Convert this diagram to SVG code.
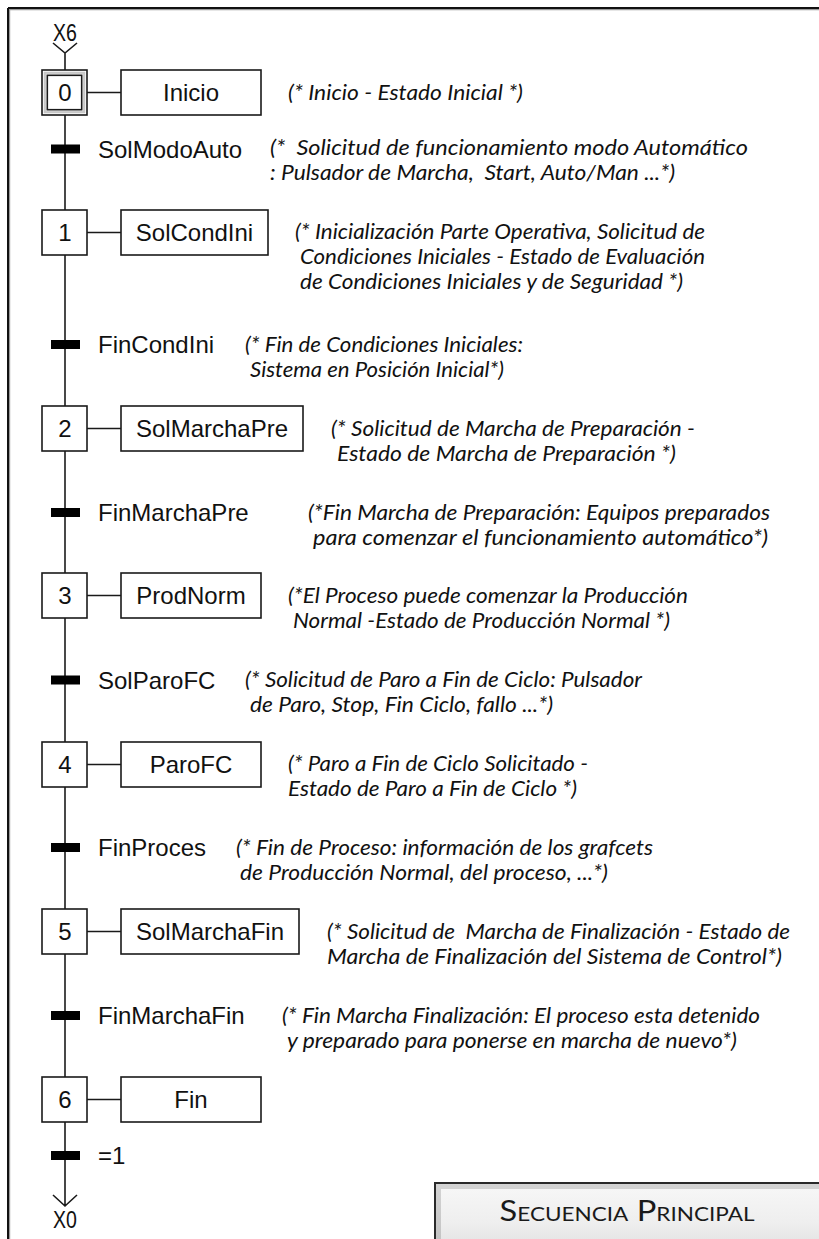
<svg xmlns="http://www.w3.org/2000/svg" width="819" height="1239" viewBox="0 0 819 1239">
  <defs>
    <linearGradient id="btnOuter" x1="0" y1="0" x2="0" y2="1">
      <stop offset="0" stop-color="#d4d4d4"/>
      <stop offset="1" stop-color="#bdbdbd"/>
    </linearGradient>
    <linearGradient id="btnFace" x1="0" y1="0" x2="0" y2="1">
      <stop offset="0" stop-color="#f6f6f6"/>
      <stop offset="0.5" stop-color="#eeeeee"/>
      <stop offset="1" stop-color="#dcdcdc"/>
    </linearGradient>
  </defs>
  <style>
    .ln{stroke:#1a1a1a;stroke-width:1.6;fill:none}
    .box{fill:#fff;stroke:#1a1a1a;stroke-width:1.6}
    .bar{fill:#000}
    .lbl{font-family:"Liberation Sans",Arial,sans-serif;font-size:24px;fill:#111}
    .mid{text-anchor:middle}
    .ref{font-family:"Liberation Sans",Arial,sans-serif;font-size:23px;fill:#111;text-anchor:middle}
    .cm{font-family:Lato,"Liberation Sans",sans-serif;font-style:italic;font-size:22px;fill:#111;white-space:pre}
    .title{font-family:Lato,"Liberation Sans",sans-serif;font-size:29px;fill:#1a1a1a;font-variant:small-caps;text-anchor:middle}
  </style>

  <rect width="819" height="1239" fill="#fff"/>

  <!-- page frame (top and left edges) -->
  <g id="frame">
    <line x1="8" y1="9.6" x2="819" y2="9.6" stroke="#9a9a9a" stroke-width="1.2"/>
    <line x1="9.6" y1="8" x2="9.6" y2="1239" stroke="#9a9a9a" stroke-width="1.2"/>
    <line x1="8" y1="8" x2="819" y2="8" stroke="#111" stroke-width="2"/>
    <line x1="8" y1="8" x2="8" y2="1239" stroke="#111" stroke-width="2"/>
  </g>

  <!-- connectors -->
  <g id="connectors" class="ln">
    <path d="M53,43 L65,53 L77,43 M65,53 V70"/>
    <path d="M65,115 V210"/>
    <path d="M65,255 V406"/>
    <path d="M65,451 V573"/>
    <path d="M65,618 V742"/>
    <path d="M65,787 V909"/>
    <path d="M65,954 V1077"/>
    <path d="M65,1122 V1206 M53,1195 L65,1206 L77,1195"/>
    <path d="M87,92.5 H121 M87,232.5 H121 M87,428.5 H121 M87,595.5 H121 M87,764.5 H121 M87,931.5 H121 M87,1099.5 H121"/>
  </g>

  <!-- references -->
  <g id="ref-in">
    <text class="ref" transform="translate(65,41) scale(0.85,1)">X6</text>
  </g>
  <g id="ref-out">
    <text class="ref" transform="translate(65,1228) scale(0.85,1)">X0</text>
  </g>

  <!-- step 0 (initial) -->
  <g id="step0">
    <rect x="42" y="70" width="45" height="45" fill="#fff" stroke="#1a1a1a" stroke-width="1.6"/>
    <rect x="44.8" y="72.8" width="39.4" height="39.4" fill="none" stroke="#c8c8c8" stroke-width="2.2"/>
    <rect x="47.3" y="75.3" width="34.4" height="34.4" fill="none" stroke="#1a1a1a" stroke-width="1.6"/>
    <text class="lbl mid" x="65" y="101">0</text>
  </g>
  <g id="action0">
    <rect class="box" x="121" y="70" width="140" height="45"/>
    <text class="lbl mid" x="191" y="101">Inicio</text>
    <text class="cm" x="288" y="100" textLength="235" lengthAdjust="spacingAndGlyphs">(* Inicio - Estado Inicial *)</text>
  </g>

  <g id="t0">
    <rect class="bar" x="51" y="144.5" width="29" height="9"/>
    <text class="lbl" x="98" y="157.5">SolModoAuto</text>
    <text class="cm" x="270" y="155" textLength="478" lengthAdjust="spacingAndGlyphs">(*  Solicitud de funcionamiento modo Automático</text>
    <text class="cm" x="270" y="180" textLength="405" lengthAdjust="spacingAndGlyphs">: Pulsador de Marcha,  Start, Auto/Man ...*)</text>
  </g>

  <g id="step1">
    <rect class="box" x="42" y="210" width="45" height="45"/>
    <text class="lbl mid" x="65" y="241">1</text>
  </g>
  <g id="action1">
    <rect class="box" x="121" y="210" width="147" height="45"/>
    <text class="lbl mid" x="194.5" y="241">SolCondIni</text>
    <text class="cm" x="295" y="239" textLength="410" lengthAdjust="spacingAndGlyphs">(* Inicialización Parte Operativa, Solicitud de</text>
    <text class="cm" x="300" y="264" textLength="405" lengthAdjust="spacingAndGlyphs">Condiciones Iniciales - Estado de Evaluación</text>
    <text class="cm" x="300" y="289" textLength="383" lengthAdjust="spacingAndGlyphs">de Condiciones Iniciales y de Seguridad *)</text>
  </g>

  <g id="t1">
    <rect class="bar" x="51" y="340" width="29" height="9"/>
    <text class="lbl" x="98" y="353">FinCondIni</text>
    <text class="cm" x="245" y="352" textLength="278" lengthAdjust="spacingAndGlyphs">(* Fin de Condiciones Iniciales:</text>
    <text class="cm" x="250" y="377" textLength="254" lengthAdjust="spacingAndGlyphs">Sistema en Posición Inicial*)</text>
  </g>

  <g id="step2">
    <rect class="box" x="42" y="406" width="45" height="45"/>
    <text class="lbl mid" x="65" y="437">2</text>
  </g>
  <g id="action2">
    <rect class="box" x="121" y="406" width="182" height="45"/>
    <text class="lbl mid" x="212" y="437">SolMarchaPre</text>
    <text class="cm" x="331" y="436" textLength="364" lengthAdjust="spacingAndGlyphs">(* Solicitud de Marcha de Preparación -</text>
    <text class="cm" x="337" y="461" textLength="339" lengthAdjust="spacingAndGlyphs">Estado de Marcha de Preparación *)</text>
  </g>

  <g id="t2">
    <rect class="bar" x="51" y="508" width="29" height="9"/>
    <text class="lbl" x="98" y="521">FinMarchaPre</text>
    <text class="cm" x="308" y="520" textLength="462" lengthAdjust="spacingAndGlyphs">(*Fin Marcha de Preparación: Equipos preparados</text>
    <text class="cm" x="313" y="545" textLength="455" lengthAdjust="spacingAndGlyphs">para comenzar el funcionamiento automático*)</text>
  </g>

  <g id="step3">
    <rect class="box" x="42" y="573" width="45" height="45"/>
    <text class="lbl mid" x="65" y="604">3</text>
  </g>
  <g id="action3">
    <rect class="box" x="121" y="573" width="140" height="45"/>
    <text class="lbl mid" x="191" y="604">ProdNorm</text>
    <text class="cm" x="288" y="603" textLength="400" lengthAdjust="spacingAndGlyphs">(*El Proceso puede comenzar la Producción</text>
    <text class="cm" x="293" y="628" textLength="377" lengthAdjust="spacingAndGlyphs">Normal -Estado de Producción Normal *)</text>
  </g>

  <g id="t3">
    <rect class="bar" x="51" y="675.5" width="29" height="9"/>
    <text class="lbl" x="98" y="688.5">SolParoFC</text>
    <text class="cm" x="245" y="687" textLength="397" lengthAdjust="spacingAndGlyphs">(* Solicitud de Paro a Fin de Ciclo: Pulsador</text>
    <text class="cm" x="250" y="712" textLength="303" lengthAdjust="spacingAndGlyphs">de Paro, Stop, Fin Ciclo, fallo ...*)</text>
  </g>

  <g id="step4">
    <rect class="box" x="42" y="742" width="45" height="45"/>
    <text class="lbl mid" x="65" y="773">4</text>
  </g>
  <g id="action4">
    <rect class="box" x="121" y="742" width="140" height="45"/>
    <text class="lbl mid" x="191" y="773">ParoFC</text>
    <text class="cm" x="288" y="771" textLength="300" lengthAdjust="spacingAndGlyphs">(* Paro a Fin de Ciclo Solicitado -</text>
    <text class="cm" x="288" y="796" textLength="289" lengthAdjust="spacingAndGlyphs">Estado de Paro a Fin de Ciclo *)</text>
  </g>

  <g id="t4">
    <rect class="bar" x="51" y="843" width="29" height="9"/>
    <text class="lbl" x="98" y="856">FinProces</text>
    <text class="cm" x="236" y="855" textLength="417" lengthAdjust="spacingAndGlyphs">(* Fin de Proceso: información de los grafcets</text>
    <text class="cm" x="240" y="880" textLength="368" lengthAdjust="spacingAndGlyphs">de Producción Normal, del proceso, ...*)</text>
  </g>

  <g id="step5">
    <rect class="box" x="42" y="909" width="45" height="45"/>
    <text class="lbl mid" x="65" y="940">5</text>
  </g>
  <g id="action5">
    <rect class="box" x="121" y="909" width="178" height="45"/>
    <text class="lbl mid" x="210" y="940">SolMarchaFin</text>
    <text class="cm" x="327" y="939" textLength="463" lengthAdjust="spacingAndGlyphs">(* Solicitud de  Marcha de Finalización - Estado de</text>
    <text class="cm" x="327" y="964" textLength="455" lengthAdjust="spacingAndGlyphs">Marcha de Finalización del Sistema de Control*)</text>
  </g>

  <g id="t5">
    <rect class="bar" x="51" y="1011" width="29" height="9"/>
    <text class="lbl" x="98" y="1024">FinMarchaFin</text>
    <text class="cm" x="282" y="1023" textLength="478" lengthAdjust="spacingAndGlyphs">(* Fin Marcha Finalización: El proceso esta detenido</text>
    <text class="cm" x="287" y="1048" textLength="450" lengthAdjust="spacingAndGlyphs">y preparado para ponerse en marcha de nuevo*)</text>
  </g>

  <g id="step6">
    <rect class="box" x="42" y="1077" width="45" height="45"/>
    <text class="lbl mid" x="65" y="1108">6</text>
  </g>
  <g id="action6">
    <rect class="box" x="121" y="1077" width="140" height="45"/>
    <text class="lbl mid" x="191" y="1108">Fin</text>
  </g>

  <g id="t6">
    <rect class="bar" x="51" y="1151" width="29" height="9"/>
    <text class="lbl" x="98" y="1164">=1</text>
  </g>

  <!-- title plate -->
  <g id="title">
    <rect x="435" y="1183" width="400" height="80" fill="url(#btnOuter)" stroke="#2a2a2a" stroke-width="2"/>
    <rect x="441" y="1189" width="390" height="70" fill="url(#btnFace)"/>
    <text class="title" x="627" y="1221" textLength="255" lengthAdjust="spacingAndGlyphs">Secuencia Principal</text>
  </g>
</svg>
